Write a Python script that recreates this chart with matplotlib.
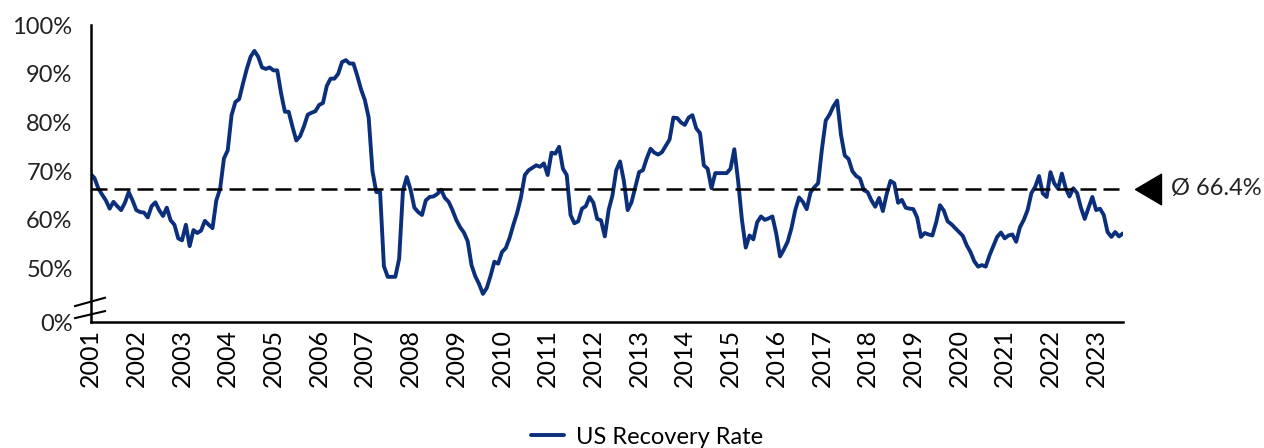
import numpy as np
import matplotlib
matplotlib.use("Agg")
from matplotlib import pyplot as plt
import matplotlib.transforms as mtransforms

plt.rcParams['font.family'] = ['Lato', 'DejaVu Sans']

# monthly US recovery rate (%), Jan 2001 .. Aug 2023
recovery_rate = [
    69.4, 68.6, 66.5, 65.2, 64.0, 62.3, 63.7, 62.8, 62.0, 63.5, 65.7, 64.0,  # 2001
    62.0, 61.6, 61.5, 60.5, 62.8, 63.6, 62.0, 60.8, 62.5, 59.9, 59.0, 56.2,  # 2002
    55.8, 59.0, 54.6, 57.9, 57.3, 57.8, 59.8, 59.0, 58.3, 64.0, 66.4, 72.6,  # 2003
    74.3, 81.5, 84.2, 84.8, 88.0, 91.0, 93.5, 94.7, 93.5, 91.3, 91.0, 91.3,  # 2004
    90.7, 90.7, 86.0, 82.2, 82.2, 79.1, 76.3, 77.2, 79.2, 81.6, 82.0, 82.3,  # 2005
    83.6, 84.0, 87.5, 89.0, 89.0, 90.0, 92.4, 92.8, 92.1, 92.1, 89.6, 86.8,  # 2006
    84.6, 81.0, 70.0, 65.7, 65.7, 50.5, 48.3, 48.3, 48.3, 52.0, 66.0, 68.8,  # 2007
    66.2, 62.5, 61.6, 61.0, 64.0, 64.7, 64.8, 65.3, 66.2, 64.5, 63.7, 62.0,  # 2008
    60.0, 58.5, 57.4, 55.6, 50.7, 48.4, 46.8, 44.8, 46.0, 48.5, 51.4, 51.0,  # 2009
    53.4, 54.2, 56.3, 59.0, 61.5, 64.7, 69.2, 70.2, 70.7, 71.2, 70.9, 71.6,  # 2010
    69.2, 73.8, 73.6, 75.0, 70.5, 69.2, 61.0, 59.3, 59.7, 62.3, 62.8, 64.7,  # 2011
    63.5, 60.2, 59.9, 56.6, 62.0, 65.0, 70.2, 72.0, 68.0, 62.0, 63.6, 66.7,  # 2012
    69.8, 70.2, 72.6, 74.6, 73.8, 73.4, 73.9, 75.2, 76.5, 81.0, 80.9, 80.0,  # 2013
    79.5, 81.0, 81.5, 78.8, 77.8, 71.2, 70.5, 66.5, 69.6, 69.6, 69.6, 69.6,  # 2014
    70.5, 74.5, 68.0, 60.0, 54.3, 56.8, 56.0, 59.5, 60.7, 60.0, 60.3, 60.7,  # 2015
    57.2, 52.5, 53.9, 55.5, 58.3, 62.0, 64.6, 63.7, 62.2, 65.6, 66.7, 67.5,  # 2016
    74.5, 80.4, 81.6, 83.3, 84.5, 77.5, 73.2, 72.5, 70.0, 69.0, 68.5, 66.1,  # 2017
    65.7, 64.0, 62.7, 64.5, 61.8, 65.3, 68.0, 67.5, 63.5, 64.1, 62.5, 62.3,  # 2018
    62.2, 60.5, 56.5, 57.3, 57.0, 56.8, 59.5, 63.0, 61.9, 59.7, 59.1, 58.3,  # 2019
    57.5, 56.7, 54.8, 53.4, 51.5, 50.4, 50.7, 50.4, 52.7, 54.6, 56.5, 57.4,  # 2020
    56.2, 56.8, 57.0, 55.5, 58.5, 60.0, 62.0, 65.5, 66.8, 69.0, 65.4, 64.7,  # 2021
    69.8, 67.5, 66.4, 69.5, 66.5, 64.8, 66.5, 65.5, 62.5, 60.2, 62.5, 64.7,  # 2022
    62.0, 62.3, 61.0, 57.5, 56.5, 57.5, 56.6, 57.2,                          # 2023
]
start_year = 2001
tick_years = list(range(2001, 2024))
avg_rate = 66.4

# y axis is broken: everything below 50% is squeezed, "0%" sits at 39
y_ticks = [39, 50, 60, 70, 80, 90, 100]
y_labels = ["0%", "50%", "60%", "70%", "80%", "90%", "100%"]

navy = "#0B2F7B"

t = start_year + np.arange(len(recovery_rate)) / 12.0

fig = plt.figure(figsize=(12.64, 4.48), dpi=100)
ax = fig.add_axes([0.0717, 0.281, 0.8166, 0.663])

ax.plot(t, recovery_rate, color=navy, lw=2.8, label="US Recovery Rate",
        solid_joinstyle="round", solid_capstyle="round")
ax.axhline(avg_rate, color="black", lw=1.8, linestyle=(0, (6.4, 2.8)))

ax.set_xlim(t[0], t[-1])
ax.set_ylim(39, 100)
ax.set_xticks(tick_years)
ax.set_xticklabels([str(y) for y in tick_years], rotation=90, fontsize=18)
ax.set_yticks(y_ticks)
ax.set_yticklabels(y_labels, fontsize=17, color="#222222")
ax.tick_params(axis="x", length=0, pad=5)
ax.tick_params(axis="y", length=0, pad=13)

for s in ["top", "right"]:
    ax.spines[s].set_visible(False)
for s in ["left", "bottom"]:
    ax.spines[s].set_linewidth(1.8)
    ax.spines[s].set_color("black")

# axis break marks
for y0, y1 in [(0.054, 0.082), (0.0135, 0.037)]:
    ax.plot([-0.0151, 0.0139], [y0, y1], color="black", lw=1.5,
            transform=ax.transAxes, clip_on=False)

# average marker and label on the right
trans = mtransforms.blended_transform_factory(ax.transAxes, ax.transData)
ax.plot([1.024], [avg_rate], marker=[(-0.85, 0), (0.85, 1), (0.85, -1), (-0.85, 0)],
        ms=22, color="black", transform=trans, clip_on=False)
ax.text(1.047, avg_rate, "Ø 66.4%", transform=trans, va="center", ha="left",
        fontsize=17, color="#222222")

fig.legend(loc="center", bbox_to_anchor=(647 / 1264, 1 - 437 / 448),
           frameon=False, fontsize=17, handlelength=1.4, handletextpad=0.5)

fig.savefig("out.png", dpi=100)
